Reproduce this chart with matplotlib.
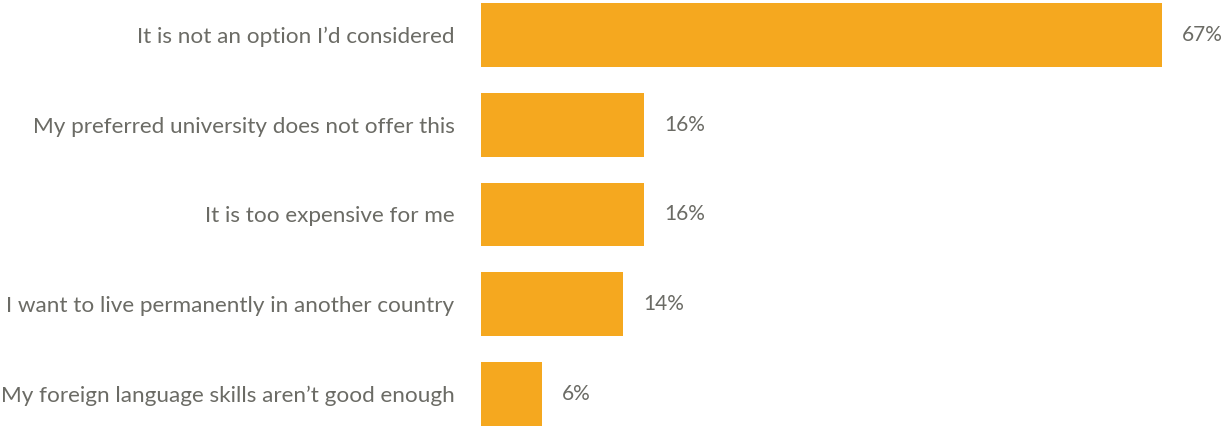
import matplotlib.pyplot as plt

reasons = [
    "It is not an option I\u2019d considered",
    "My preferred university does not offer this",
    "It is too expensive for me",
    "I want to live permanently in another country",
    "My foreign language skills aren\u2019t good enough",
]
shares = [67, 16, 16, 14, 6]

bar_color = '#F5A81F'
text_color = '#6B6B65'

plt.rcParams['font.family'] = ['Lato', 'DejaVu Sans']

fig = plt.figure(figsize=(12.25, 4.26), dpi=100)
ax = fig.add_axes([481 / 1225, 0, 744 / 1225, 1])

pos = list(range(len(reasons)))
ax.barh(pos, shares, height=64 / 90, color=bar_color)
ax.set_xlim(0, 744 / 10.16)
ax.set_ylim(4 + 32 / 90, -35 / 90)

for y, v in zip(pos, shares):
    ax.text(v + 2.0, y, f"{v}%", va='center', ha='left', fontsize=15, color=text_color)

ax.set_yticks(pos)
ax.set_yticklabels(reasons, fontsize=16.2, color=text_color)
ax.tick_params(axis='y', length=0, pad=19)
ax.set_xticks([])
for s in ax.spines.values():
    s.set_visible(False)

fig.savefig('out.png', dpi=100)
